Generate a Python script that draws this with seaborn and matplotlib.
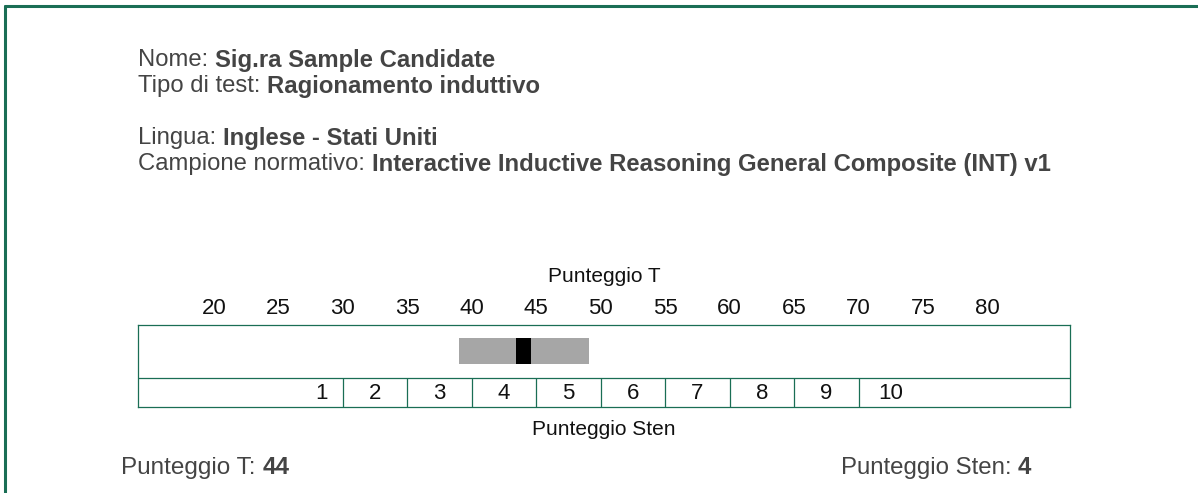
import matplotlib
matplotlib.use("Agg")
import matplotlib.pyplot as plt
import seaborn as sns

# data
t_ticks = [20, 25, 30, 35, 40, 45, 50, 55, 60, 65, 70, 75, 80]
sten_labels = ["1", "2", "3", "4", "5", "6", "7", "8", "9", "10"]
sten_label_t = [28.3, 32.5, 37.5, 42.5, 47.5, 52.5, 57.5, 62.5, 67.5, 72.5]
sten_cuts = [30, 35, 40, 45, 50, 55, 60, 65, 70]
t_score = 44
t_band = (39, 49.1)
sten_score = 4

header_rows = [
    ("Nome: ", "Sig.ra Sample Candidate", 59),
    ("Tipo di test: ", "Ragionamento induttivo", 85),
    ("Lingua: ", "Inglese - Stati Uniti", 137),
    ("Campione normativo: ", "Interactive Inductive Reasoning General Composite (INT) v1", 163),
]

sns.set_style("white")
plt.rcParams["font.family"] = ["Liberation Sans", "DejaVu Sans"]

GREEN = "#1a6e55"
TXT = "#444444"
W, H = 1198, 493

fig = plt.figure(figsize=(W / 100, H / 100), dpi=100)
renderer = fig.canvas.get_renderer()


def mixed(x_px, y_px, normal, bold, size=17.2):
    t1 = fig.text(x_px / W, 1 - y_px / H, normal, fontsize=size, color=TXT,
                  va="center", ha="left")
    bb = t1.get_window_extent(renderer)
    fig.text(bb.x1 / W, 1 - y_px / H, bold, fontsize=size, color=TXT,
             va="center", ha="left", fontweight="bold")


for normal, bold, y in header_rows:
    mixed(138, y + 1, normal, bold)

mixed(121, 468, "Punteggio T: ", str(t_score), size=17.5)
mixed(841, 468, "Punteggio Sten: ", str(sten_score), size=17.3)

# outer frame: top and left only
fig.add_artist(plt.Line2D([5 / W, 1], [1 - 6 / H, 1 - 6 / H], color=GREEN, lw=2.2))
fig.add_artist(plt.Line2D([5 / W, 5 / W], [0, 1 - 6 / H], color=GREEN, lw=2.2))

# scale box
left, right, top, bottom = 138, 1070, 325, 407
ax = fig.add_axes([left / W, 1 - bottom / H, (right - left) / W, (bottom - top) / H])
ax.set_xlim(14.1, 86.4)
ax.set_ylim(0, 1)
for sp in ax.spines.values():
    sp.set_visible(True)
    sp.set_color(GREEN)
    sp.set_linewidth(0.9)

mid = 0.354
ax.axhline(mid, color=GREEN, lw=0.9)
ax.vlines(sten_cuts, 0, mid, color=GREEN, lw=0.9)

# confidence band and score marker
ax.barh(0.683, t_band[1] - t_band[0], left=t_band[0], height=0.317,
        color="#a6a6a6", linewidth=0)
ax.barh(0.683, 1.2, left=t_score - 0.6, height=0.317, color="black", linewidth=0)

for lab, pos in zip(sten_labels, sten_label_t):
    ax.text(pos, 0.17, lab, ha="center", va="center", fontsize=16, color="#111111")

ax.set_xticks(t_ticks)
ax.set_xticklabels([str(t) for t in t_ticks], fontsize=16, color="#111111")
ax.xaxis.tick_top()
ax.xaxis.set_label_position("top")
ax.tick_params(axis="x", length=0, pad=4)
ax.set_yticks([])
ax.set_xlabel("Punteggio T", fontsize=15, color="#111111", labelpad=12)
ax.text(0.5, -0.28, "Punteggio Sten", transform=ax.transAxes, ha="center",
        va="center", fontsize=15, color="#111111")

fig.savefig("out.png", dpi=100)
